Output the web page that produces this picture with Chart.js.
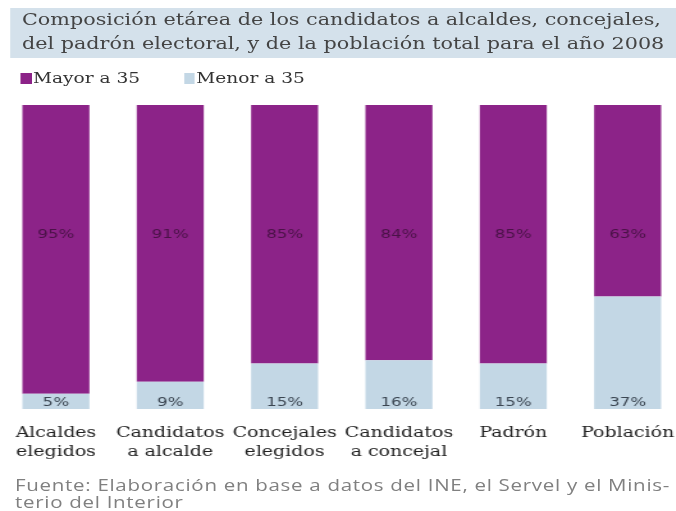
<!DOCTYPE html>
<html lang="es">
<head>
  <meta charset="UTF-8" />
  <title>Composición etárea</title>
  <script src="https://cdn.jsdelivr.net/npm/chart.js"></script>
  <style>
    html, body { margin: 0; padding: 0; background: #fff; overflow: hidden; }
    body { width: 676px; height: 511px; position: relative; }
    /* the original graphic is stretched horizontally, so is this page */
    #page {
      position: absolute; left: 0; top: 0; width: 528px; height: 511px;
      transform: scaleX(1.28); transform-origin: 0 0;
    }
    .title {
      position: absolute; left: 7.8px; top: 8px; width: 521px; height: 50px;
      background: #d4e1eb; color: #444;
      font-family: "DejaVu Serif", serif; font-size: 16.2px; line-height: 24px;
      padding: 0 0 0 9.4px; box-sizing: border-box; white-space: nowrap;
    }
    .legend {
      position: absolute; top: 70px; left: 16.2px; white-space: nowrap;
      font-family: "DejaVu Serif", serif; font-size: 14.5px; color: #333;
    }
    .legend span { display: inline-block; }
    .legend i { display: inline-block; width: 8.6px; height: 10.6px; margin-right: 1px; vertical-align: -1px; }
    .foot {
      position: absolute; left: 11.7px; top: 477px; color: #808080; white-space: nowrap;
      font-family: "Open Sans", sans-serif; font-size: 16px; line-height: 17px; letter-spacing: 0.56px;
    }
    #chart { position: absolute; left: -0.8px; top: 0; }
  </style>
</head>
<body>
<div id="page">
  <div class="title">Composición etárea de los candidatos a alcaldes, concejales,<br>del padrón electoral, y de la población total para el año 2008</div>
  <div class="legend">
    <span style="width:127.6px"><i style="background:#8c2388"></i>Mayor a 35</span><span><i style="background:#c3d7e5"></i>Menor a 35</span>
  </div>
  <canvas id="chart" width="536" height="486"></canvas>
  <div class="foot">Fuente: Elaboración en base a datos del INE, el Servel y el Minis-<br>terio del Interior</div>
</div>

  <script>
    const categories = [
      ['Alcaldes', 'elegidos'],
      ['Candidatos', 'a alcalde'],
      ['Concejales', 'elegidos'],
      ['Candidatos', 'a concejal'],
      ['Padrón'],
      ['Población']
    ];
    const mayor35 = [95, 91, 85, 84, 85, 63];
    const menor35 = [5, 9, 15, 16, 15, 37];

    // percentage labels: top one sits at a fixed height, bottom one near the base
    const barLabels = {
      id: 'barLabels',
      afterDatasetsDraw(chart) {
        const ctx = chart.ctx;
        const y = chart.scales.y;
        ctx.save();
        ctx.font = '13px "DejaVu Sans", sans-serif';
        ctx.textAlign = 'center';
        ctx.textBaseline = 'middle';
        chart.getDatasetMeta(1).data.forEach((bar, i) => {
          ctx.fillStyle = '#4a1247';
          ctx.fillText(mayor35[i] + '%', bar.x, y.getPixelForValue(57.4));
        });
        chart.getDatasetMeta(0).data.forEach((bar, i) => {
          ctx.fillStyle = '#3b4652';
          ctx.fillText(menor35[i] + '%', bar.x, y.getPixelForValue(2.1));
        });
        ctx.restore();
      }
    };

    new Chart(document.getElementById('chart'), {
      type: 'bar',
      data: {
        labels: categories,
        datasets: [
          { label: 'Menor a 35', data: menor35, backgroundColor: '#c3d7e5' },
          { label: 'Mayor a 35', data: mayor35, backgroundColor: '#8c2388' }
        ]
      },
      options: {
        responsive: false,
        animation: false,
        layout: { padding: { top: 105, bottom: 10, left: 0, right: 0 } },
        plugins: { legend: { display: false }, tooltip: { enabled: false } },
        scales: {
          x: {
            stacked: true,
            grid: { display: false, drawTicks: false },
            border: { display: false },
            // labels fit inside their columns, no side padding needed
            afterFit(scale) { scale.paddingLeft = 0; scale.paddingRight = 0; },
            ticks: {
              autoSkip: false, maxRotation: 0, padding: 15,
              color: '#222',
              font: { family: '"DejaVu Serif", serif', size: 14.8, lineHeight: 1.25 }
            }
          },
          y: {
            stacked: true, display: false, min: 0, max: 100
          }
        },
        datasets: { bar: { barPercentage: 0.586, categoryPercentage: 1 } }
      },
      plugins: [barLabels]
    });
  </script>
</body>
</html>
